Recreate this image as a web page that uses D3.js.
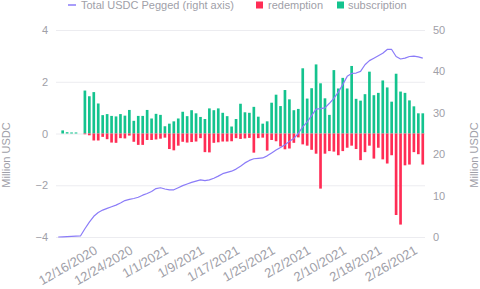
<!DOCTYPE html>
<html>
<head>
<meta charset="utf-8">
<script src="https://cdn.jsdelivr.net/npm/d3@7"></script>
<style>
  body { margin: 0; background: #fff; }
  svg { display: block; font-family: "Liberation Sans", Arial, sans-serif; }
</style>
</head>
<body>
<div id="chart"></div>
<script>
// daily values, 12/7/2020 .. 2/27/2021
const startDay = new Date(2020, 11, 7);
const endDay = new Date(2021, 1, 28);

const subscription = [
  0, 0.12, 0.05, 0.04, 0.04, 0, 1.66, 1.44, 1.6, 1.16,
  0.71, 0.75, 0.68, 0.66, 0.75, 0.69, 0.91, 0.49, 0.68, 0.68,
  0.91, 0.58, 0.76, 0.72, 0.28, 0.38, 0.47, 0.58, 0.84, 0.67,
  0.9, 0.78, 0.64, 0.56, 0.97, 0.9, 0.97, 0.8, 0.67, 0.27,
  0.56, 1.15, 0.82, 0.8, 1.03, 0.65, 0.38, 0.47, 1.19, 1.5,
  1.06, 1.68, 1.32, 0.9, 0.95, 2.52, 1.35, 1.75, 2.67, 1.94,
  1.36, 0.72, 2.45, 1.74, 2.15, 1.74, 2.61, 1.34, 1.27, 1.52,
  2.39, 1.48, 1.57, 2.05, 1.78, 1.23, 2.31, 1.62, 1.57, 1.28,
  1.05, 0.78, 0.78
];

const redemption = [
  0, 0, 0, 0, 0, 0, 0.03, 0.07, 0.27, 0.27,
  0.13, 0.22, 0.35, 0.36, 0.18, 0.19, 0.08, 0.32, 0.44, 0.44,
  0.25, 0.25, 0.23, 0.2, 0.16, 0.6, 0.65, 0.47, 0.32, 0.35,
  0.33, 0.31, 0.18, 0.72, 0.73, 0.36, 0.34, 0.31, 0.31, 0.3,
  0.18, 0.21, 0.19, 0.17, 0.74, 0.18, 0.16, 0.66, 0.25, 0.3,
  0.5, 0.61, 0.58, 0.36, 0.15, 0.42, 0.47, 0.63, 0.78, 2.13,
  0.78, 0.68, 0.7, 0.84, 0.68, 0.55, 0.47, 0.6, 1.03, 0.72,
  0.47, 0.97, 0.55, 1.0, 1.16, 0.84, 3.15, 3.52, 1.23, 1.2,
  0.72, 0.8, 1.2
];

const pegged = [
  0, 0.05, 0.1, 0.15, 0.2, 0.25, 2.0, 3.6, 5.0, 5.9,
  6.5, 6.9, 7.3, 7.7, 8.2, 8.8, 9.1, 9.3, 9.6, 10.1,
  10.5, 11.0, 11.7, 11.9, 11.6, 11.4, 11.4, 11.9, 12.4, 12.8,
  13.2, 13.5, 13.8, 13.6, 13.8, 14.2, 14.7, 15.3, 15.6, 15.9,
  16.4, 17.1, 17.9, 18.5, 18.9, 19.0, 19.1, 19.6, 20.3, 21.0,
  21.6, 22.3, 23.1, 23.8, 25.0, 26.6, 27.8, 29.3, 30.9, 31.0,
  31.2, 32.3, 33.5, 35.0, 36.8, 38.8, 39.5, 39.6, 40.0, 41.6,
  42.6, 43.2, 43.8, 44.4, 45.3, 45.3, 43.6, 43.0, 43.2, 43.6,
  43.7, 43.5, 43.2
];

const xTickLabels = ["12/16/2020", "12/24/2020", "1/1/2021", "1/9/2021", "1/17/2021",
  "1/25/2021", "2/2/2021", "2/10/2021", "2/18/2021", "2/26/2021"];
const leftTicks = [-4, -2, 0, 2, 4];
const rightTicks = [0, 10, 20, 30, 40, 50];

const width = 480;
const height = 289;
const margin = ({top: 30, right: 55, bottom: 52, left: 56});

const colors = {
  line: "#8b7cf8",
  red: "#ff2d55",
  green: "#14c38e",
  text: "#a0a0a8",
  grid: "#ececf0"
};

const fmt = d3.timeFormat("%-m/%-d/%Y");
const dates = d3.timeDay.range(startDay, endDay).map(fmt);

const x = d3.scaleBand()
  .domain(dates)
  .range([margin.left, width - margin.right])
  .paddingInner(0.4)
  .paddingOuter(0.2);

const yL = d3.scaleLinear()
  .domain([-4, 4])
  .range([height - margin.bottom, margin.top]);

const yR = d3.scaleLinear()
  .domain([0, 50])
  .range([height - margin.bottom, margin.top]);

const svg = d3.select("#chart").append("svg")
  .attr("width", width)
  .attr("height", height);

// grid + left axis
svg.append("g")
  .attr("transform", `translate(${margin.left},0)`)
  .call(d3.axisLeft(yL).tickValues(leftTicks).tickSize(-(width - margin.left - margin.right)).tickPadding(8))
  .call(g => g.select(".domain").remove())
  .call(g => g.selectAll(".tick line").attr("stroke", colors.grid))
  .call(g => g.selectAll(".tick text").attr("fill", colors.text).attr("font-size", 11)
    .attr("font-family", "Liberation Sans, Arial, sans-serif"));

// right axis
svg.append("g")
  .attr("transform", `translate(${width - margin.right},0)`)
  .call(d3.axisRight(yR).tickValues(rightTicks).tickSize(0).tickPadding(8))
  .call(g => g.select(".domain").remove())
  .call(g => g.selectAll(".tick text").attr("fill", colors.text).attr("font-size", 11)
    .attr("font-family", "Liberation Sans, Arial, sans-serif"));

// x axis labels
svg.append("g")
  .selectAll("text")
  .data(xTickLabels)
  .join("text")
    .attr("transform", d => `translate(${x(d) + x.bandwidth() / 2},${height - margin.bottom + 16}) rotate(-30)`)
    .attr("text-anchor", "end")
    .attr("fill", colors.text)
    .attr("font-size", 13)
    .text(d => d);

// axis titles
svg.append("text")
  .attr("transform", `translate(10,155) rotate(-90)`)
  .attr("text-anchor", "middle")
  .attr("fill", colors.text)
  .attr("font-size", 11)
  .text("Million USDC");

svg.append("text")
  .attr("transform", `translate(${width - 2},155) rotate(-90)`)
  .attr("text-anchor", "middle")
  .attr("fill", colors.text)
  .attr("font-size", 11)
  .text("Million USDC");

// bars
svg.append("g")
  .attr("fill", colors.green)
  .selectAll("rect")
  .data(subscription)
  .join("rect")
    .attr("x", (d, i) => x(dates[i]))
    .attr("y", d => yL(d))
    .attr("width", x.bandwidth())
    .attr("height", d => yL(0) - yL(d));

svg.append("g")
  .attr("fill", colors.red)
  .selectAll("rect")
  .data(redemption)
  .join("rect")
    .attr("x", (d, i) => x(dates[i]))
    .attr("y", yL(0))
    .attr("width", x.bandwidth())
    .attr("height", d => yL(-d) - yL(0));

// pegged line
const line = d3.line()
  .x((d, i) => x(dates[i]) + x.bandwidth() / 2)
  .y(d => yR(d));

svg.append("path")
  .datum(pegged)
  .attr("fill", "none")
  .attr("stroke", colors.line)
  .attr("stroke-width", 1.2)
  .attr("stroke-linejoin", "round")
  .attr("d", line);

// legend
const legend = svg.append("g")
  .attr("font-size", 11)
  .attr("fill", colors.text);

legend.append("line")
  .attr("x1", 68).attr("x2", 76)
  .attr("y1", 5).attr("y2", 5)
  .attr("stroke", colors.line)
  .attr("stroke-width", 1.5);
legend.append("text").attr("x", 81).attr("y", 9).text("Total USDC Pegged (right axis)");

legend.append("rect")
  .attr("x", 256).attr("y", 1.5).attr("width", 7).attr("height", 7)
  .attr("fill", colors.red);
legend.append("text").attr("x", 268).attr("y", 9).text("redemption");

legend.append("rect")
  .attr("x", 337).attr("y", 1.5).attr("width", 7).attr("height", 7)
  .attr("fill", colors.green);
legend.append("text").attr("x", 348).attr("y", 9).text("subscription");
</script>
</body>
</html>
